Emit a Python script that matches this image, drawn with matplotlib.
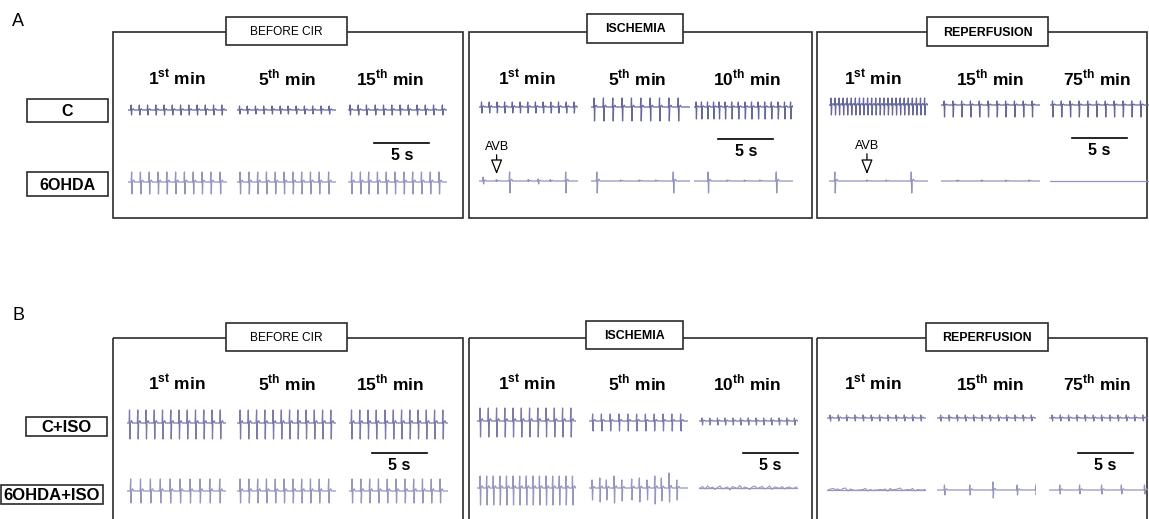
import numpy as np
import matplotlib.pyplot as plt
from matplotlib.patches import Rectangle

plt.rcParams['font.family'] = ['Liberation Sans', 'DejaVu Sans']
plt.rcParams['mathtext.fontset'] = 'custom'
plt.rcParams['mathtext.rm'] = 'Liberation Sans'
plt.rcParams['mathtext.bf'] = 'Liberation Sans:bold'

W, H = 1149, 519
DUR = 9.0  # seconds shown in one strip (5 s bar ~ 55 px)

PHASES = ['BEFORE CIR', 'ISCHEMIA', 'REPERFUSION']
MINUTES = [['1', '5', '15'], ['1', '5', '10'], ['1', '15', '75']]
SUFFIX = ['st', 'th', 'th']
ROWS_A = ['C', '6OHDA']
ROWS_B = ['C+ISO', '6OHDA+ISO']

# beat times (s) for the 9 strips of a row: before 1/5/15, ischemia 1/5/10, reperfusion 1/15/75
A_C_BEATS = [
    [0.3, 1.05, 1.8, 2.55, 3.3, 4.05, 4.8, 5.55, 6.3, 7.05, 7.8, 8.55],
    [0.25, 0.95, 1.7, 2.45, 3.2, 3.95, 4.65, 5.4, 6.15, 6.9, 7.65, 8.4],
    [0.2, 0.95, 1.7, 2.5, 3.25, 4.0, 4.75, 5.5, 6.3, 7.05, 7.8, 8.6],
    [0.25, 0.95, 1.65, 2.35, 3.05, 3.75, 4.45, 5.15, 5.85, 6.55, 7.25, 7.95, 8.65],
    [0.3, 1.15, 2.0, 2.85, 3.7, 4.55, 5.4, 6.25, 7.1, 7.95],
    [0.2, 0.7, 1.25, 1.8, 2.3, 2.85, 3.45, 4.05, 4.65, 5.25, 5.85, 6.45, 7.05, 7.65, 8.25, 8.8],
    [0.2, 0.57, 0.94, 1.31, 1.68, 2.05, 2.42, 2.79, 3.16, 3.53, 3.9, 4.27, 4.64, 5.01,
     5.38, 5.75, 6.12, 6.49, 6.86, 7.23, 7.6, 7.97, 8.34, 8.71],
    [0.3, 1.1, 1.9, 2.7, 3.5, 4.3, 5.1, 5.9, 6.7, 7.5, 8.3],
    [0.25, 1.05, 1.85, 2.65, 3.45, 4.25, 5.05, 5.85, 6.65, 7.45, 8.25],
]
A_C_UP = [5, 4, 5, 5, 9, 5, 7, 4, 4]
A_C_DOWN = [5, 4, 5, 6, 14, 12, 10, 12, 12]

A_OH_BEATS = [
    [0.35, 1.15, 1.95, 2.75, 3.55, 4.35, 5.15, 5.95, 6.75, 7.55, 8.4],
    [0.3, 1.1, 1.9, 2.7, 3.5, 4.3, 5.1, 5.9, 6.7, 7.5, 8.35],
    [0.35, 1.15, 1.9, 2.7, 3.5, 4.3, 5.1, 5.9, 6.7, 7.5, 8.3],
    [0.4, 1.6, 2.8, 4.5, 5.4, 6.5, 7.9],
    [0.55, 2.7, 4.4, 5.9, 7.5],
    [1.3, 3.0, 4.6, 6.0, 7.5],
    [0.55, 3.45, 5.2, 7.5],
    [1.5, 3.7, 5.9, 8.0],
    [],
]
A_OH_UP = [10, 10, 10,
           [4, 1.5, 9, 1.5, 2, 1.5, 9], [9, 1, 1, 1, 9], [9, 1, 1, 1, 9],
           [9, 1, 1, 9], [1, 1, 1, 1], 0]
A_OH_DOWN = [12, 12, 12,
             [3, 0.5, 12, 0.5, 3, 0.5, 12], [12, 0.3, 0.3, 0.3, 12], [12, 0.3, 0.3, 0.3, 12],
             [12, 0.3, 0.3, 12], [0.4, 0.4, 0.4, 0.4], 0]

B_C_BEATS = [
    [0.25, 1.0, 1.75, 2.5, 3.25, 4.0, 4.75, 5.5, 6.25, 7.0, 7.75, 8.5],
    [0.3, 1.05, 1.8, 2.55, 3.3, 4.05, 4.8, 5.55, 6.3, 7.05, 7.8, 8.55],
    [0.25, 1.0, 1.75, 2.5, 3.3, 4.05, 4.8, 5.55, 6.3, 7.05, 7.8, 8.55],
    [0.3, 1.05, 1.8, 2.55, 3.3, 4.05, 4.8, 5.55, 6.3, 7.05, 7.8, 8.55],
    [0.35, 1.15, 1.95, 2.75, 3.55, 4.35, 5.15, 5.95, 6.75, 7.55, 8.35],
    [0.3, 1.0, 1.7, 2.4, 3.1, 3.8, 4.5, 5.2, 5.9, 6.6, 7.3, 8.0, 8.7],
    [0.3, 1.05, 1.8, 2.55, 3.3, 4.05, 4.8, 5.55, 6.3, 7.05, 7.8, 8.55],
    [0.35, 1.1, 1.85, 2.6, 3.35, 4.1, 4.85, 5.6, 6.35, 7.1, 7.85, 8.6],
    [0.3, 1.05, 1.8, 2.55, 3.3, 4.05, 4.8, 5.55, 6.3, 7.05, 7.8, 8.55],
]
B_C_UP = [13, 13, 13, 13, 7, 3, 3, 3, 3]
B_C_DOWN = [16, 16, 16, 16, 10, 4, 3, 3, 3]

B_OH_BEATS = [
    [0.35, 1.25, 2.15, 3.05, 3.95, 4.85, 5.75, 6.65, 7.55, 8.45],
    [0.3, 1.1, 1.9, 2.7, 3.5, 4.3, 5.1, 5.9, 6.7, 7.5, 8.35],
    [0.3, 1.1, 1.9, 2.7, 3.5, 4.3, 5.1, 5.9, 6.7, 7.5, 8.3],
    [0.3, 0.9, 1.5, 2.1, 2.7, 3.3, 3.9, 4.5, 5.1, 5.7, 6.3, 6.9, 7.5, 8.1, 8.7],
    [0.3, 1.0, 1.6, 2.3, 3.0, 3.9, 4.6, 5.3, 6.0, 6.6, 7.3, 8.0],
    [],
    [],
    [0.7, 3.0, 5.1, 7.3, 9.0],
    [1.0, 2.8, 4.8, 6.6, 8.7],
]
B_OH_UP = [12, 12, 12, 12, [8, 10, 8, 12, 8, 9, 10, 8, 12, 10, 15, 8], 0, 0,
           [5, 5, 8, 5, 5], 5]
B_OH_DOWN = [12, 12, 12, 17, [12, 14, 12, 15, 13, 12, 14, 12, 16, 13, 14, 12], 0, 0,
             [5, 5, 8, 5, 5], 4]

# irregular low-voltage activity (B, 6OHDA+ISO: ischemia 10th min, reperfusion 1st min)
NOISE_ISCH = [0, 1.5, -1, 2, -0.5, 1, -1.5, 0.5, 2, -1, 0, 1, -2, 1.5, 0.5, -0.5, 2.5, -1,
              1, 0, -1.5, 1, 2, -0.5, 0.5, 1.5, -1, 0, 2, -1.5, 1, 0.5, -0.5, 1.5, -1, 0.5,
              1, -0.5, 0, 1]
NOISE_REP = [0, 1, 1.5, 0.5, 1, -0.5, 1.5, 2, -1, 1, 0, -0.5, 0, 0, 0.5, 1.5, -1, 0.5,
             -0.5, 0, 0, 0.5, 0, 1, -1, 1.5, 0, 0.5, 1, 2, -0.5, 0, 0.5, 0, 1.5, -1, 0.5,
             0, 0, 0.5]

# layout (figure pixels)
BOX_X = [(113, 463), (469, 812), (817, 1147)]
A_TOP, A_BOT, B_TOP, B_BOT = 32, 218, 338, 530
TITLE_A = [(226, 347, 17, 45), (587, 683, 14, 43), (927, 1048, 17, 46)]
TITLE_B = [(226, 347, 323, 351), (586, 683, 321, 349), (926, 1048, 323, 351)]
HEAD_X = [177, 287, 390, 527, 637, 747, 873, 990, 1097]
STRIP_X_A = [128, 237, 348, 479, 591, 694, 829, 941, 1050]
STRIP_X_B = [127, 237, 349, 477, 589, 699, 827, 937, 1049]
ROWY_A = [[110, 107, 105], [182, 181, 181]]
ROWY_B = [[423, 421, 418], [491, 488, 490]]
COLORS = ['#66679a', '#9394bb', '#7a7ba8', '#9697bd']

fig = plt.figure(figsize=(W / 100, H / 100), dpi=100)
bg = fig.add_axes([0, 0, 1, 1])
bg.set_xlim(0, W)
bg.set_ylim(H, 0)
bg.axis('off')


def strip_axes(x0, yc, w=99, h=60):
    ax = fig.add_axes([x0 / W, 1 - (yc + h / 2) / H, w / W, h / H])
    ax.set_xlim(0, DUR)
    ax.set_ylim(-h / 2, h / 2)
    ax.axis('off')
    return ax


def draw_ecg(ax, beats, up, down, color):
    up = np.broadcast_to(up, len(beats))
    down = np.broadcast_to(down, len(beats))
    xs, ys = [0.0], [0.0]
    for t, u, d in zip(beats, up, down):
        xs += [t - 0.06, t - 0.02, t + 0.02, t + 0.06, t + 0.17, t + 0.26]
        ys += [0, u, -d, 0, 0.15 * u + 0.4, 0]
    xs.append(DUR)
    ys.append(0)
    ax.plot(xs, ys, color=color, lw=0.9)


def box(x0, x1, y0, y1, fill=False):
    bg.add_patch(Rectangle((x0, y0), x1 - x0, y1 - y0, fill=fill, fc='white',
                           ec='#2b2b2b', lw=1.2))


bg.text(18, 21, 'A', fontsize=13, ha='center', va='center')
bg.text(18, 315, 'B', fontsize=13, ha='center', va='center')

for p in range(3):
    for top, bot, tb in [(A_TOP, A_BOT, TITLE_A[p]), (B_TOP, B_BOT, TITLE_B[p])]:
        box(BOX_X[p][0], BOX_X[p][1], top, bot)
        box(tb[0], tb[1], tb[2], tb[3], fill=True)
        bg.text((tb[0] + tb[1]) / 2, (tb[2] + tb[3]) / 2 + 1, PHASES[p],
                fontsize=8.6 if p == 0 else 8.9,
                fontweight='normal' if p == 0 else 'bold', ha='center', va='center')

for i in range(9):
    p, j = divmod(i, 3)
    lab = MINUTES[p][j] + r'$^{\mathbf{' + SUFFIX[j] + '}}$ min'
    for y in (78, 383):
        bg.text(HEAD_X[i], y, lab, fontsize=12.5, fontweight='bold', ha='center', va='center')

for name, (x0, x1, y0, y1), fs in zip(ROWS_A + ROWS_B,
                                      [(27, 108, 99, 122), (27, 108, 172, 196),
                                       (26, 107, 417, 436), (1, 103, 485, 504)],
                                      [11.5, 11.5, 12, 12]):
    box(x0, x1, y0, y1)
    bg.text((x0 + x1) / 2, (y0 + y1) / 2 + 1, name, fontsize=fs, fontweight='bold',
            ha='center', va='center')

strips = {}
rows = [(STRIP_X_A, ROWY_A[0], A_C_BEATS, A_C_UP, A_C_DOWN, COLORS[0], 'A0'),
        (STRIP_X_A, ROWY_A[1], A_OH_BEATS, A_OH_UP, A_OH_DOWN, COLORS[1], 'A1'),
        (STRIP_X_B, ROWY_B[0], B_C_BEATS, B_C_UP, B_C_DOWN, COLORS[2], 'B0'),
        (STRIP_X_B, ROWY_B[1], B_OH_BEATS, B_OH_UP, B_OH_DOWN, COLORS[3], 'B1')]
for xs, ys, beats, ups, downs, col, key in rows:
    for i in range(9):
        ax = strip_axes(xs[i], ys[i // 3])
        draw_ecg(ax, beats[i], ups[i], downs[i], col)
        strips[key, i] = ax

for i, noise in [(5, NOISE_ISCH), (6, NOISE_REP)]:
    ax = strips['B1', i]
    ax.plot(np.linspace(0.1, DUR - 0.1, len(noise)), noise, color=COLORS[3], lw=0.8)

# 5 s scale bars: (strip, start time, bar height, label height)
for key, i, t0, yb, yt in [('A1', 2, 2.4, 39, 26), ('A1', 5, 2.2, 42, 29), ('A1', 8, 2.0, 43, 31),
                           ('B1', 2, 2.1, 38, 25), ('B1', 5, 4.0, 35, 22), ('B1', 8, 2.6, 37, 24)]:
    ax = strips[key, i]
    ax.plot([t0, t0 + 5], [yb, yb], color='black', lw=1.2, clip_on=False)
    ax.text(t0 + 2.5, yt, '5 s', fontsize=11.5, fontweight='bold', ha='center', va='center')

# AV block markers
for i, t, yt in [(3, 1.6, 34), (6, 3.45, 35)]:
    ax = strips['A1', i]
    ax.annotate('', xy=(t, 4), xytext=(t, yt - 5), annotation_clip=False,
                arrowprops=dict(arrowstyle='-|>,head_length=0.9,head_width=0.35',
                                fc='white', ec='black', lw=0.9))
    ax.text(t, yt, 'AVB', fontsize=9, ha='center', va='center')

fig.savefig('out.png', dpi=100)
